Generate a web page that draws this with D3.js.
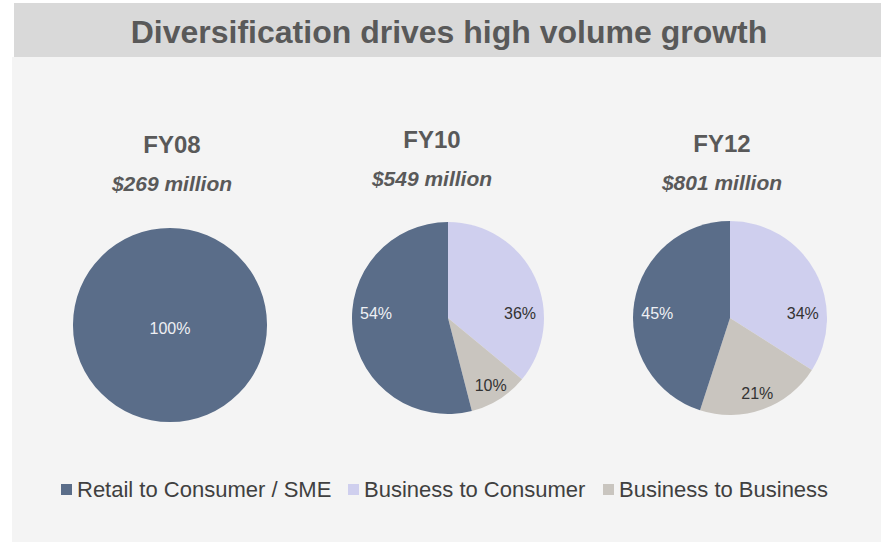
<!DOCTYPE html>
<html>
<head>
<meta charset="utf-8">
<script src="https://cdn.jsdelivr.net/npm/d3@7"></script>
<style>
  html, body { margin: 0; padding: 0; background: #ffffff; }
  svg { display: block; font-family: "Liberation Sans", Arial, sans-serif; }
</style>
</head>
<body>
<svg id="chart" width="885" height="542"></svg>
<script>
// Volume mix by segment, per fiscal year
const years = ["FY08", "FY10", "FY12"];
const totals = ["$269 million", "$549 million", "$801 million"];
const segments = ["Business to Consumer", "Business to Business", "Retail to Consumer / SME"];
const shareB2C = [0, 36, 34];
const shareB2B = [0, 10, 21];
const shareRetail = [100, 54, 45];
const legendOrder = ["Retail to Consumer / SME", "Business to Consumer", "Business to Business"];

const chartTitle = "Diversification drives high volume growth";

const color = d3.scaleOrdinal()
  .domain(["Retail to Consumer / SME", "Business to Consumer", "Business to Business"])
  .range(["#5a6d89", "#cfcfee", "#c9c5bf"]);

const labelColor = d3.scaleOrdinal()
  .domain(["Retail to Consumer / SME", "Business to Consumer", "Business to Business"])
  .range(["#eef0f4", "#333333", "#333333"]);

const svg = d3.select("#chart");

// Backdrop panel and title band
svg.append("rect").attr("x", 12).attr("y", 57).attr("width", 869).attr("height", 485).attr("fill", "#f4f4f4");
svg.append("rect").attr("x", 14).attr("y", 3).attr("width", 867).attr("height", 54).attr("fill", "#d9d9d9");
svg.append("text")
  .attr("x", 449).attr("y", 43)
  .attr("text-anchor", "middle")
  .attr("font-size", 32).attr("font-weight", "bold")
  .attr("fill", "#595959")
  .text(chartTitle);

// Panel layout: pie centre, heading centre and heading baselines
const panels = [
  { cx: 170, cy: 325, r: 97, tx: 172, ty1: 153, ty2: 191 },
  { cx: 448, cy: 318, r: 96, tx: 432, ty1: 148, ty2: 186 },
  { cx: 730, cy: 318, r: 97, tx: 722, ty1: 152, ty2: 190 }
];

const pie = d3.pie().sort(null).value(d => d.value);

years.forEach((yr, i) => {
  const p = panels[i];
  const data = [
    { key: "Business to Consumer", value: shareB2C[i] },
    { key: "Business to Business", value: shareB2B[i] },
    { key: "Retail to Consumer / SME", value: shareRetail[i] }
  ].filter(d => d.value > 0);

  const g = svg.append("g").attr("transform", `translate(${p.cx},${p.cy})`);
  const arc = d3.arc().innerRadius(0).outerRadius(p.r);
  const arcs = pie(data);

  g.selectAll("path").data(arcs).join("path")
    .attr("d", arc)
    .attr("fill", d => color(d.data.key));

  g.selectAll("text").data(arcs).join("text")
    .attr("text-anchor", "middle")
    .attr("dominant-baseline", "central")
    .attr("font-size", 16)
    .attr("fill", d => labelColor(d.data.key))
    .attr("transform", d => {
      if (d.endAngle - d.startAngle >= 2 * Math.PI - 1e-6) return "translate(0,3)";
      // slices spanning a horizontal direction get their label on that side
      const right = Math.PI / 2, left = 3 * Math.PI / 2;
      let ang = null, rr = 0.75 * p.r;
      if (d.startAngle <= right && d.endAngle >= right) ang = right;
      else if (d.startAngle <= left && d.endAngle >= left) ang = left;
      if (ang !== null) {
        return `translate(${rr * Math.sin(ang)},${-5})`;
      }
      const mid = (d.startAngle + d.endAngle) / 2;
      const r2 = 0.83 * p.r;
      return `translate(${r2 * Math.sin(mid)},${-r2 * Math.cos(mid)})`;
    })
    .text(d => d.data.value + "%");

  svg.append("text")
    .attr("x", p.tx).attr("y", p.ty1)
    .attr("text-anchor", "middle")
    .attr("font-size", 24).attr("font-weight", "bold")
    .attr("fill", "#595959")
    .text(yr);

  svg.append("text")
    .attr("x", p.tx).attr("y", p.ty2)
    .attr("text-anchor", "middle")
    .attr("font-size", 21).attr("font-weight", "bold").attr("font-style", "italic")
    .attr("fill", "#595959")
    .text(totals[i]);
});

// Legend
const legendX = [61, 348, 603];
const lg = svg.append("g");
legendOrder.forEach((name, i) => {
  lg.append("rect")
    .attr("x", legendX[i]).attr("y", 484)
    .attr("width", 11).attr("height", 11)
    .attr("fill", color(name));
  lg.append("text")
    .attr("x", legendX[i] + 16).attr("y", 497)
    .attr("font-size", 22)
    .attr("fill", "#404040")
    .text(name);
});
</script>
</body>
</html>
